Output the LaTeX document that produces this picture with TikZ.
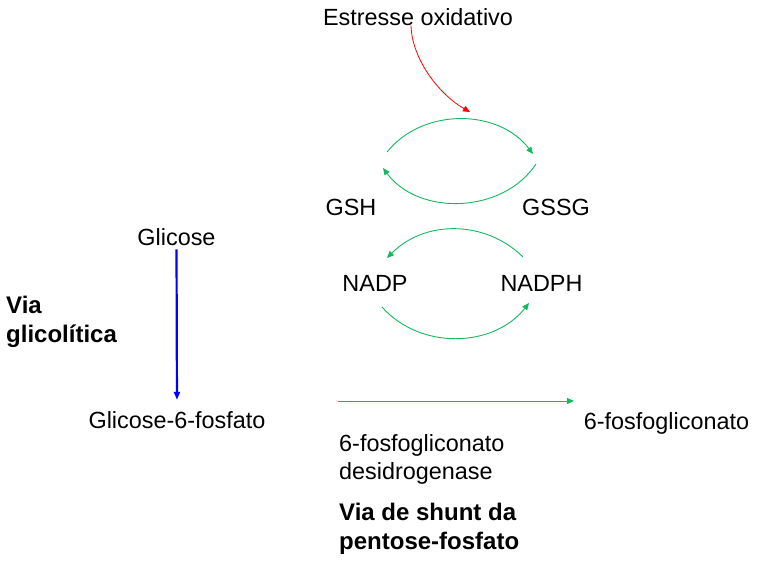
\documentclass[tikz,border=0pt]{standalone}
\usepackage{fontspec}
\setmainfont{Liberation Sans}
\usetikzlibrary{arrows.meta}
\definecolor{pptgreen}{RGB}{20,185,95}
\tikzset{
  lbl/.style={inner sep=0pt, font=\fontsize{23.4}{28.5}\selectfont},
  boldlbl/.style={lbl, align=left, font=\fontsize{24}{29}\selectfont\bfseries},
  greenarr/.style={draw=pptgreen, line width=0.9pt, -{Triangle[length=7pt,width=6pt]}},
}
\begin{document}
\begin{tikzpicture}[x=1pt,y=-1pt]
\useasboundingbox (0,0) rectangle (760,565);
\node[lbl, anchor=base] (stress) at (418,25){Estresse oxidativo};
\node[lbl, anchor=base] (gsh) at (351,215){GSH};
\node[lbl, anchor=base] (gssg) at (556,215){GSSG};
\node[lbl, anchor=base] (nadp) at (375,291){NADP};
\node[lbl, anchor=base] (nadph) at (541.5,291){NADPH};
\node[lbl, anchor=base] (glc) at (176.5,245){Glicose};
\node[lbl, anchor=base] (g6p) at (177,428){Glicose-6-fosfato};
\node[lbl, anchor=base] (pg6) at (666.5,429){6-fosfogliconato};
\node[lbl, align=left, anchor=north west] (enz) at (339,434){6-fosfogliconato\\desidrogenase};
\node[boldlbl, anchor=north west] (ppp) at (339,503){Via de shunt da\\pentose-fosfato};
\node[boldlbl, anchor=north west] (glyc) at (6,296){Via\\glicolítica};
% arc ends
\coordinate (gshtop) at (387,152);
\coordinate (gssgtop) at (533,154);
\coordinate (gssgbot) at (536,164);
\coordinate (gshbot) at (383,168);
\coordinate (nadphtop) at (523,257);
\coordinate (nadptop) at (387,258);
\coordinate (nadpbot) at (382,307);
\coordinate (nadphbot) at (529,303);
\coordinate (stresstip) at (470,112);
\coordinate (rxstart) at (338,401);
\coordinate (rxend) at (574,401);
\draw[red, line width=0.8pt, -{Triangle[length=7pt,width=6pt]}] (stress.south -| 411,0) .. controls (412,60) and (440,95) .. (stresstip);
\draw[greenarr] (gshtop) to[bend left=52] (gssgtop);
\draw[greenarr] (gssgbot) to[bend left=55] (gshbot);
\draw[greenarr] (nadphtop) to[bend right=45] (nadptop);
\draw[greenarr] (nadpbot) to[bend right=50] (nadphbot);
\draw[blue, line width=2.2pt, -{Triangle[length=8pt,width=6pt]}, shorten <=4pt, shorten >=11pt] (glc.south) -- (g6p.north);
\draw[greenarr] (rxstart) -- (rxend);
\end{tikzpicture}
\end{document}
